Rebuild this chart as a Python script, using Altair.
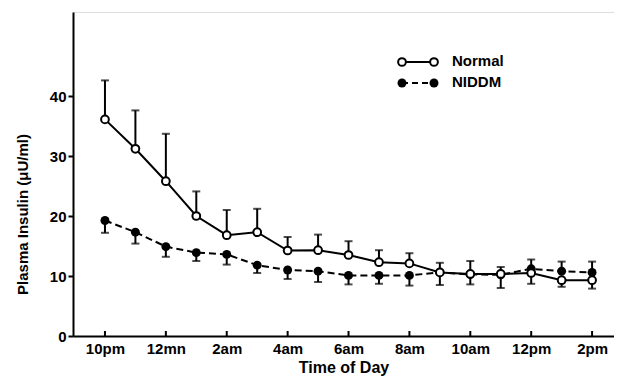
import altair as alt
import pandas as pd

hours = list(range(17))
tick_hours = [0, 2, 4, 6, 8, 10, 12, 14, 16]
tick_labels = ["10pm", "12mn", "2am", "4am", "6am", "8am", "10am", "12pm", "2pm"]
y_ticks = [0, 10, 20, 30, 40]

normal = [36.1, 31.2, 25.8, 20.0, 16.8, 17.3, 14.25, 14.3, 13.5, 12.3, 12.1, 10.6, 10.35, 10.35, 10.5, 9.3, 9.3]
normal_bar = [42.6, 37.6, 33.7, 24.1, 21.0, 21.2, 16.5, 16.9, 15.8, 14.3, 13.8, 12.2, 12.5, 11.5, 8.7, 8.2, 7.9]
niddm = [19.25, 17.3, 14.9, 13.9, 13.6, 11.8, 11.0, 10.8, 10.1, 10.1, 10.1, 10.6, 10.25, 10.2, 11.2, 10.8, 10.6]
niddm_bar = [17.2, 15.4, 13.2, 12.5, 11.9, 10.5, 9.5, 9.0, 8.6, 8.7, 8.4, 8.5, 8.6, 8.0, 12.75, 12.4, 12.4]

legend_names = ["Normal", "NIDDM"]

FONT = "Liberation Sans"
W, H = 541, 324

df_n = pd.DataFrame({"hour": hours, "value": normal, "bar": normal_bar})
df_d = pd.DataFrame({"hour": hours, "value": niddm, "bar": niddm_bar})
df_ticks = pd.DataFrame({"hour": tick_hours})

label_expr = "[" + ",".join("'%s'" % t for t in tick_labels) + "][round(datum.value/2)]"

xs = alt.Scale(domain=[-1.05, 16.72], nice=False, zero=False)
ys = alt.Scale(domain=[0, 54], nice=False)

x_enc = alt.X(
    "hour:Q", scale=xs,
    axis=alt.Axis(
        values=tick_hours, labelExpr=label_expr, title="Time of Day",
        tickSize=0, labelPadding=5, titlePadding=3, grid=False,
        domainColor="black", domainWidth=2, labelFontSize=15, labelFontWeight="bold",
        titleFontSize=16, titleFontWeight="bold", labelColor="black", titleColor="black",
        labelFont=FONT, titleFont=FONT,
    ),
)
y_enc = alt.Y(
    "value:Q", scale=ys,
    axis=alt.Axis(
        values=y_ticks, title="Plasma Insulin (μU/ml)", tickSize=5, tickWidth=2,
        tickColor="black", domainColor="black", domainWidth=2, grid=False,
        labelPadding=2, titlePadding=19, titleY=202, labelFontSize=15, labelFontWeight="bold",
        titleFontSize=15, titleFontWeight="bold", labelColor="black", titleColor="black",
        labelFont=FONT, titleFont=FONT,
    ),
)

base_n = alt.Chart(df_n)
base_d = alt.Chart(df_d)

def bars(base):
    stem = base.mark_rule(color="black", strokeWidth=2).encode(
        x=alt.X("hour:Q", scale=xs), y=alt.Y("value:Q", scale=ys), y2="bar:Q")
    cap = base.mark_tick(color="black", orient="horizontal", size=8, thickness=2).encode(
        x=alt.X("hour:Q", scale=xs), y=alt.Y("bar:Q", scale=ys))
    return stem + cap

line_n = base_n.mark_line(color="black", strokeWidth=2).encode(x=x_enc, y=y_enc)
line_d = base_d.mark_line(color="black", strokeWidth=2, strokeDash=[7, 4]).encode(
    x=alt.X("hour:Q", scale=xs), y=alt.Y("value:Q", scale=ys))
pts_d = base_d.mark_point(shape="circle", filled=True, color="black", size=80, opacity=1).encode(
    x=alt.X("hour:Q", scale=xs), y=alt.Y("value:Q", scale=ys))
pts_n = base_n.mark_point(shape="circle", filled=True, fill="white", stroke="black",
                          strokeWidth=2, size=60, opacity=1).encode(
    x=alt.X("hour:Q", scale=xs), y=alt.Y("value:Q", scale=ys))

ticks = alt.Chart(df_ticks).mark_rule(color="black", strokeWidth=2).encode(
    x=alt.X("hour:Q", scale=xs), y=alt.value(H), y2=alt.value(H - 5))

# legend (drawn manually)
lx1, lx2, ltx = 329, 361, 379
ly1, ly2 = 50, 71
leg_line_n = alt.Chart(pd.DataFrame({"a": [0]})).mark_rule(color="black", strokeWidth=2).encode(
    x=alt.value(lx1), x2=alt.value(lx2), y=alt.value(ly1))
leg_line_d = alt.Chart(pd.DataFrame({"a": [0]})).mark_rule(color="black", strokeWidth=2, strokeDash=[6, 4]).encode(
    x=alt.value(lx1), x2=alt.value(lx2), y=alt.value(ly2))
leg_pts_n = alt.Chart(pd.DataFrame({"px": [lx1, lx2]})).mark_point(
    shape="circle", filled=True, fill="white", stroke="black", strokeWidth=2, size=60, opacity=1).encode(
    x=alt.X("px:Q", scale=None), y=alt.value(ly1))
leg_pts_d = alt.Chart(pd.DataFrame({"px": [lx1, lx2]})).mark_point(
    shape="circle", filled=True, color="black", size=80, opacity=1).encode(
    x=alt.X("px:Q", scale=None), y=alt.value(ly2))
leg_text = alt.Chart(pd.DataFrame({"t": legend_names, "py": [ly1 - 1, ly2 - 1]})).mark_text(
    align="left", baseline="middle", font=FONT, fontSize=15, fontWeight="bold", color="black").encode(
    x=alt.value(ltx), y=alt.Y("py:Q", scale=None), text="t:N")

chart = alt.layer(
    line_n, bars(base_n), bars(base_d), ticks, line_d, pts_d, pts_n,
    leg_line_n, leg_line_d, leg_pts_n, leg_pts_d, leg_text,
).properties(
    width=W, height=H,
    autosize=alt.AutoSizeParams(type="none"),
    padding={"left": 65, "top": 4, "right": 0, "bottom": 43},
).configure_view(stroke=None).configure(background="white")

chart.save("out.html", embed_options={"renderer": "svg", "actions": False})
